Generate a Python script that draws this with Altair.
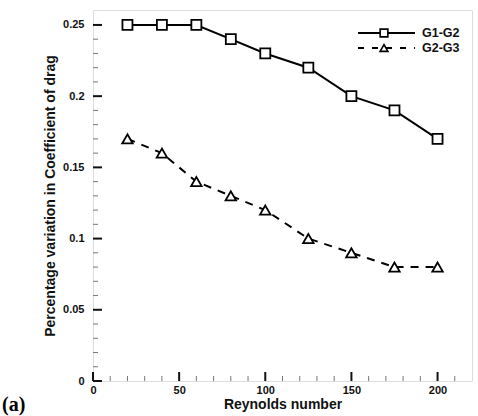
import altair as alt
import pandas as pd

# Drag-coefficient variation between grid pairs against Reynolds number
reynolds = [20, 40, 60, 80, 100, 125, 150, 175, 200]
g1_g2 = [0.25, 0.25, 0.25, 0.24, 0.23, 0.22, 0.20, 0.19, 0.17]
g2_g3 = [0.17, 0.16, 0.14, 0.13, 0.12, 0.10, 0.09, 0.08, 0.08]

x_major = [0, 50, 100, 150, 200]
y_major = [0, 0.05, 0.1, 0.15, 0.2, 0.25]
x_minor = [10, 20, 30, 40, 60, 70, 80, 90, 110, 120, 130, 140, 160, 170, 180, 190, 210]
y_minor = [0.01, 0.02, 0.03, 0.04, 0.06, 0.07, 0.08, 0.09, 0.11, 0.12, 0.13, 0.14,
           0.16, 0.17, 0.18, 0.19, 0.21, 0.22, 0.23, 0.24]

W, H = 379, 371
FONT = "Liberation Sans"

df = pd.DataFrame({
    "Re": reynolds * 2,
    "val": g1_g2 + g2_g3,
    "series": ["G1-G2"] * len(reynolds) + ["G2-G3"] * len(reynolds),
})
g1 = df[df.series == "G1-G2"]
g2 = df[df.series == "G2-G3"]

xs = alt.Scale(domain=[0, 220], nice=False, zero=False)
ys = alt.Scale(domain=[0, 0.2605], nice=False, zero=False)

x_axis = alt.Axis(values=x_major, ticks=False, domain=False, grid=False,
                  labelFont=FONT, labelFontSize=11, labelFontWeight="bold",
                  labelColor="#111", labelPadding=3, labelFlush=False,
                  title="Reynolds number", titleFont=FONT, titleFontSize=14,
                  titleFontWeight="bold", titleColor="#111", titlePadding=2)
y_axis = alt.Axis(values=y_major, ticks=False, domain=False, grid=False,
                  labelFont=FONT, labelFontSize=11, labelFontWeight="bold",
                  labelColor="#111", labelPadding=9, labelFlush=False,
                  format="~g",
                  title="Percentage variation in Coefficient of drag",
                  titleFont=FONT, titleFontSize=14, titleFontWeight="bold",
                  titleColor="#111", titlePadding=5)

base_axes = alt.Chart(df).mark_point(opacity=0).encode(
    x=alt.X("Re:Q", scale=xs, axis=x_axis),
    y=alt.Y("val:Q", scale=ys, axis=y_axis),
)

line1 = alt.Chart(g1).mark_line(color="black", strokeWidth=2).encode(
    x=alt.X("Re:Q", scale=xs), y=alt.Y("val:Q", scale=ys))
line2 = alt.Chart(g2).mark_line(color="black", strokeWidth=2, strokeDash=[8, 7]).encode(
    x=alt.X("Re:Q", scale=xs), y=alt.Y("val:Q", scale=ys))

pts1 = alt.Chart(g1).mark_point(shape="square", filled=True, fill="white",
                                stroke="black", strokeWidth=1.8, size=100, opacity=1).encode(
    x=alt.X("Re:Q", scale=xs), y=alt.Y("val:Q", scale=ys))
pts2 = alt.Chart(g2).mark_point(shape="triangle-up", filled=True, fill="white",
                                stroke="black", strokeWidth=1.8, size=110, opacity=1).encode(
    x=alt.X("Re:Q", scale=xs), y=alt.Y("val:Q", scale=ys))

# inward tick marks
xmaj = alt.Chart(pd.DataFrame({"t": x_major})).mark_rule(color="#111", strokeWidth=2).encode(
    x=alt.X("t:Q", scale=xs), y=alt.value(H), y2=alt.value(H - 9))
xmin = alt.Chart(pd.DataFrame({"t": x_minor})).mark_rule(color="#777", strokeWidth=1).encode(
    x=alt.X("t:Q", scale=xs), y=alt.value(H), y2=alt.value(H - 5))
ymaj = alt.Chart(pd.DataFrame({"t": y_major})).mark_rule(color="#111", strokeWidth=2).encode(
    y=alt.Y("t:Q", scale=ys), x=alt.value(0), x2=alt.value(9))
ymin = alt.Chart(pd.DataFrame({"t": y_minor})).mark_rule(color="#777", strokeWidth=1).encode(
    y=alt.Y("t:Q", scale=ys), x=alt.value(0), x2=alt.value(5))

# legend in the upper right corner
one = pd.DataFrame({"k": [0]})
leg = []
for name, yy, dash, shape in [("G1-G2", 23, None, "square"), ("G2-G3", 38, [6, 8], "triangle-up")]:
    rule_kw = dict(color="black", strokeWidth=2)
    if dash:
        rule_kw["strokeDash"] = dash
    leg.append(alt.Chart(one).mark_rule(**rule_kw).encode(
        x=alt.value(265), x2=alt.value(322), y=alt.value(yy)))
    leg.append(alt.Chart(one).mark_point(shape=shape, filled=True, fill="white", stroke="black",
                                         strokeWidth=1.6, size=60, opacity=1).encode(
        x=alt.value(291), y=alt.value(yy)))
    leg.append(alt.Chart(one).mark_text(text=name, align="left", baseline="middle", font=FONT,
                                        fontSize=12.5, fontWeight="bold", color="#111").encode(
        x=alt.value(329), y=alt.value(yy)))

panel_tag = alt.Chart(one).mark_text(text="(a)", align="left", baseline="middle",
                                     font="Liberation Serif", fontSize=20, fontWeight="bold",
                                     color="black").encode(x=alt.value(-91), y=alt.value(H + 24))

chart = alt.layer(
    base_axes, xmin, ymin, xmaj, ymaj, line1, line2, pts1, pts2, *leg, panel_tag
).properties(
    width=W, height=H,
    autosize=alt.AutoSizeParams(type="none"),
    padding={"left": 93, "top": 10, "right": 6, "bottom": 35},
).configure_view(
    stroke="#9a9a9a", strokeWidth=1.5
).configure(background="white")

chart.save("out.html", embed_options={"renderer": "svg", "actions": False})
